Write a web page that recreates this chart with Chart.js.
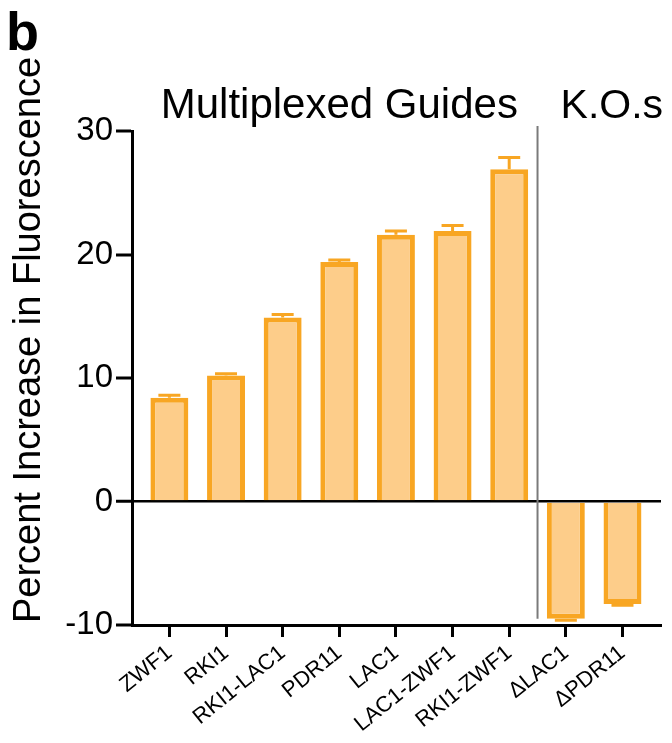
<!DOCTYPE html>
<html>
<head>
<meta charset="utf-8">
<script src="https://cdn.jsdelivr.net/npm/chart.js@4.4.1/dist/chart.umd.min.js"></script>
<style>
  html, body { margin: 0; padding: 0; background: #ffffff; }
  #wrap { width: 672px; height: 743px; position: relative; }
</style>
</head>
<body>
<div id="wrap"><canvas id="c" width="672" height="743"></canvas></div>
<script>
// Guide strains and knock-outs
const categories = ['ZWF1', 'RKI1', 'RKI1-LAC1', 'PDR11', 'LAC1', 'LAC1-ZWF1', 'RKI1-ZWF1', '\u0394LAC1', '\u0394PDR11'];
// Mean percent increase in fluorescence
const meanIncrease = [8.4, 10.2, 14.9, 19.4, 21.6, 21.9, 26.9, -9.5, -8.3];
// Error (drawn away from zero)
const errorBar = [0.2, 0.15, 0.25, 0.15, 0.3, 0.45, 0.95, 0.12, 0.1];
// Y axis tick values
const yTicks = [-10, 0, 10, 20, 30];
// Group headings and the boundary between the groups
const groupTitles = ['Multiplexed Guides', 'K.O.s'];
const groupSplit = 6.5;

const FONT = 'Liberation Sans';
const ORANGE = '#F8A623';
const FILL = '#FDCD8A';

// Error bars, headings, divider and panel letter
const decorations = {
  id: 'decorations',
  afterDatasetsDraw(chart) {
    const ctx = chart.ctx;
    const xs = chart.scales.x, ys = chart.scales.y;
    ctx.save();
    // error bars
    ctx.strokeStyle = ORANGE;
    ctx.lineWidth = 3;
    meanIncrease.forEach((v, i) => {
      const sign = v >= 0 ? 1 : -1;
      const x = xs.getPixelForValue(i);
      const y0 = ys.getPixelForValue(v);
      const y1 = ys.getPixelForValue(v + sign * errorBar[i]);
      ctx.beginPath();
      ctx.moveTo(x, y0);
      ctx.lineTo(x, y1);
      ctx.moveTo(x - 11, y1);
      ctx.lineTo(x + 11, y1);
      ctx.stroke();
    });
    // divider between groups
    const dx = xs.getPixelForValue(groupSplit);
    ctx.strokeStyle = '#7a7a7a';
    ctx.lineWidth = 2;
    ctx.beginPath();
    ctx.moveTo(dx, ys.getPixelForValue(30.4));
    ctx.lineTo(dx, ys.getPixelForValue(-9.5));
    ctx.stroke();
    ctx.restore();
  },
  afterDraw(chart) {
    const ctx = chart.ctx;
    const xs = chart.scales.x;
    const dx = xs.getPixelForValue(groupSplit);
    ctx.save();
    ctx.fillStyle = '#000';
    ctx.textBaseline = 'alphabetic';
    // panel letter
    ctx.font = 'bold 54px "' + FONT + '"';
    ctx.textAlign = 'left';
    ctx.fillText('b', 6, 50);
    // group headings
    ctx.font = '42px "' + FONT + '"';
    ctx.textAlign = 'center';
    ctx.fillText(groupTitles[0], xs.getPixelForValue(3), 118);
    ctx.textAlign = 'left';
    ctx.font = '41px "' + FONT + '"';
    ctx.fillText(groupTitles[1], dx + 23, 118);
    // y axis title
    ctx.font = '38px "' + FONT + '"';
    ctx.translate(40, 340);
    ctx.rotate(-Math.PI / 2);
    ctx.textAlign = 'center';
    ctx.fillText('Percent Increase in Fluorescence', 0, 0);
    ctx.restore();
  }
};

new Chart(document.getElementById('c'), {
  type: 'bar',
  data: {
    datasets: [{
      data: meanIncrease.map((v, i) => ({ x: i, y: v })),
      backgroundColor: FILL,
      borderColor: ORANGE,
      borderWidth: 5,
      categoryPercentage: 1,
      barPercentage: 0.67
    }]
  },
  options: {
    responsive: false,
    animation: false,
    devicePixelRatio: 1,
    layout: { padding: { top: 131, right: 11, left: 0, bottom: 0 } },
    plugins: { legend: { display: false }, tooltip: { enabled: false } },
    scales: {
      x: {
        type: 'linear',
        min: -0.66,
        max: 8.68,
        offset: false,
        border: { display: true, color: '#000', width: 3 },
        grid: { offset: false, drawOnChartArea: false, drawTicks: true, tickLength: 12, tickWidth: 3, tickColor: '#000', color: '#000' },
        ticks: {
          stepSize: 1, includeBounds: false, autoSkip: false,
          minRotation: 39, maxRotation: 39, padding: 3, color: '#000',
          font: { family: FONT, size: 22 },
          callback: v => categories[v] ?? ''
        },
        afterBuildTicks: s => {
          s.ticks = categories.map((_, i) => ({ value: i }));
        },
        afterFit: s => { s.height = 118; }
      },
      y: {
        min: -10,
        max: 30,
        border: { display: true, color: '#000', width: 3 },
        grid: {
          drawOnChartArea: true,
          color: c => (c.tick && c.tick.value === 0 ? '#000' : 'rgba(0,0,0,0)'),
          lineWidth: c => (c.tick && c.tick.value === 0 ? 2.5 : 0),
          drawTicks: true, tickLength: 16, tickWidth: 3, tickColor: '#000'
        },
        ticks: { padding: 3, color: '#000', font: { family: FONT, size: 33 } },
        afterBuildTicks: s => { s.ticks = yTicks.map(v => ({ value: v })); },
        afterFit: s => { s.width = 132; }
      }
    }
  },
  plugins: [decorations]
});
</script>
</body>
</html>
